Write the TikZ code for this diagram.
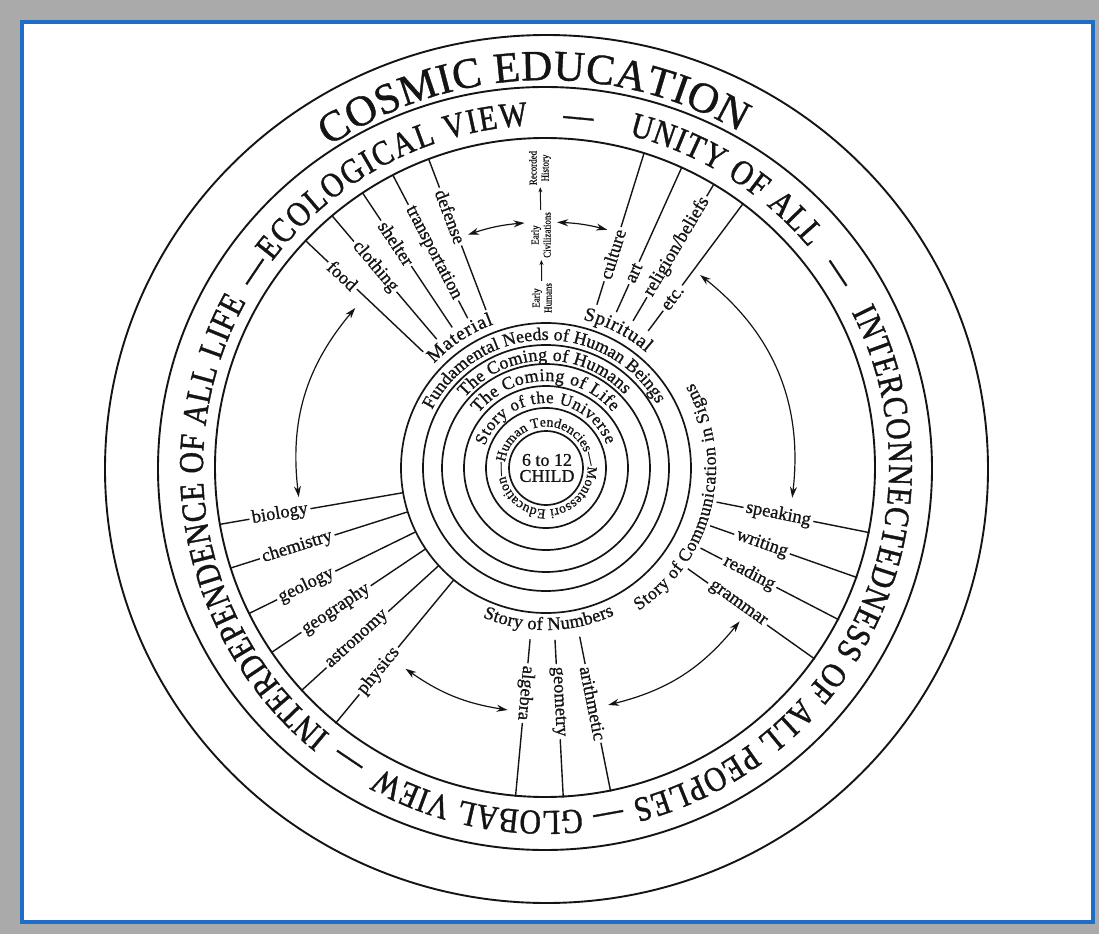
\documentclass[tikz,border=0pt]{standalone}
\usepackage{fontspec}
\setmainfont[FakeBold=0.9]{Liberation Serif}
\newfontfamily\bandfont[FakeStretch=0.85,FakeBold=1.1]{Liberation Serif}
\newfontfamily\smallfont[FakeStretch=0.85,FakeBold=0.7]{Liberation Serif}
\usetikzlibrary{decorations.text,arrows.meta}
\definecolor{framegray}{RGB}{170,170,170}
\definecolor{frameblue}{RGB}{30,110,200}
\definecolor{ink}{RGB}{20,20,20}

\newcommand\ArcText[6]{%
  \path[decorate,decoration={text along path,text color=ink,text align=#5,text={|#4|#6}}]
    (#2:#1) arc[start angle=#2,end angle=#3,radius=#1];}

\newcommand\Spoke[7]{%
  \coordinate (#1-i) at (#2:#3);
  \coordinate (#1-o) at (#2:#4);
  \node[lbl,rotate=#6] (#1) at (#2:#5) {#7};
  \draw[spoke] (#1-i) -- (#1) -- (#1-o);}

\newcommand\BF{\bandfont\fontsize{35}{35}\selectfont}
\newcommand\RF{\fontsize{18}{18}\selectfont}

\begin{document}
\begin{tikzpicture}[x=1pt,y=1pt,
  ring/.style={draw=ink,line width=1.9pt},
  inring/.style={draw=ink,line width=1.7pt},
  spoke/.style={draw=ink,line width=1.4pt},
  lbl/.style={font=\fontsize{18.5}{18.5}\selectfont,text=ink,inner sep=2.5pt},
  small/.style={font=\smallfont\fontsize{10.5}{12}\selectfont,text=ink,inner sep=2pt,align=center},
  dbl/.style={draw=ink,line width=1.2pt,{Stealth[length=11pt,width=7pt]}-{Stealth[length=11pt,width=7pt]}},
  sarrow/.style={draw=ink,line width=1pt,-{Stealth[length=5pt,width=4pt]}}]

\useasboundingbox (-546,-466) rectangle (553,468);
\fill[framegray] (-546,-466) rectangle (553,468);
\draw[frameblue,line width=3.5pt,fill=white] (-524,-454) rectangle (547,446);

% outer rings
\draw[ring] (0.5,-1) ellipse[x radius=441.5,y radius=434];
\draw[ring] (-1,-0.5) ellipse[x radius=387,y radius=381.5];
\draw[ring] (-1,0.5) ellipse[x radius=330,y radius=329.5];

% inner circles
\foreach \r in {37,60,82,104,123,145} \draw[inring] (0,0) circle[radius=\r];

% title and band text
\ArcText{388}{124}{60}{\fontsize{43}{43}\selectfont}{fit to path}{COSMIC EDUCATION}
\ArcText{343}{143}{93}{\BF}{fit to path}{ECOLOGICAL VIEW}
\ArcText{343}{89.7}{79.7}{\BF}{center}{—}
\ArcText{343}{76}{40}{\BF}{fit to path}{UNITY OF ALL}
\ArcText{343}{38.7}{28.7}{\BF}{center}{—}
\ArcText{343}{27}{-75.5}{\BF}{fit to path}{INTERCONNECTEDNESS OF ALL PEOPLES}
\ArcText{343}{-74.8}{-84.8}{\BF}{center}{—}
\ArcText{343}{-84}{-119}{\BF}{fit to path}{GLOBAL VIEW}
\ArcText{343}{-119}{-129}{\BF}{center}{—}
\ArcText{343}{-129}{-209}{\BF}{fit to path}{INTERDEPENDENCE OF ALL LIFE}
\ArcText{343}{-209}{-219}{\BF}{center}{—}

% inner ring texts
\ArcText{128}{153}{30}{\RF}{fit to path}{Fundamental Needs of Human Beings}
\ArcText{107.5}{139}{43}{\RF}{fit to path}{The Coming of Humans}
\ArcText{87}{141}{40}{\RF}{fit to path}{The Coming of Life}
\ArcText{65}{160}{21}{\fontsize{17}{17}\selectfont}{fit to path}{Story of the Universe}
\ArcText{41.5}{172}{-188}{\fontsize{13.8}{13.8}\selectfont}{fit to path}{Human Tendencies—Montessori Education—}

\ArcText{153}{137}{110}{\fontsize{19.5}{19.5}\selectfont}{fit to path}{Material}
\ArcText{153}{76}{49}{\fontsize{19.5}{19.5}\selectfont}{fit to path}{Spiritual}
\ArcText{162}{-113}{-65}{\fontsize{18.5}{18.5}\selectfont}{fit to path}{Story of Numbers}
\ArcText{170}{-57}{30}{\fontsize{18}{18}\selectfont}{fit to path}{Story of Communication in Signs}

\node[font=\fontsize{18}{16}\selectfont,align=center,text=ink] (child) at (1,0) {6 to 12\\CHILD};

% spokes
\Spoke{food}{136.6}{169}{331}{280}{-43.4}{food}
\Spoke{clothing}{130.3}{169}{331}{264}{-49.7}{clothing}
\Spoke{shelter}{123.7}{169}{330}{270}{-56.3}{shelter}
\Spoke{transp}{117.6}{169}{330}{243}{-62.4}{transportation}
\Spoke{defense}{110.8}{169}{330}{269}{-69.2}{defense}
\Spoke{culture}{72.7}{171}{329}{224}{72.7}{culture}
\Spoke{art}{65.7}{171}{329}{214}{65.7}{art}
\Spoke{religion}{59.4}{171}{329}{257}{59.4}{religion/beliefs}
\Spoke{etc}{53.3}{171}{329}{212}{53.3}{etc.}
\Spoke{biology}{189.8}{145}{331}{270}{9.8}{biology}
\Spoke{chemistry}{197.6}{145}{331}{261}{17.6}{chemistry}
\Spoke{geology}{206.1}{145}{331}{267}{26.1}{geology}
\Spoke{geography}{213.9}{145}{331}{253}{33.9}{geography}
\Spoke{astronomy}{222.3}{145}{331}{255}{42.3}{astronomy}
\Spoke{physics}{230.5}{145}{331}{263}{50.5}{physics}
\Spoke{speaking}{-11.3}{174}{330}{237}{-11.3}{speaking}
\Spoke{writing}{-19.4}{174}{330}{229}{-19.4}{writing}
\Spoke{reading}{-27.4}{174}{330}{229}{-27.4}{reading}
\Spoke{grammar}{-35.4}{174}{330}{235}{-35.4}{grammar}
\Spoke{algebra}{-95.3}{172}{330}{226}{-95.3}{algebra}
\Spoke{geometry}{-87}{172}{330}{234}{-87}{geometry}
\Spoke{arithmetic}{-78.7}{172}{330}{240}{-78.7}{arithmetic}

% history sequence
\node[small,rotate=90] (eh) at (-4,170) {Early\\Humans};
\node[small,rotate=90] (ec) at (-5,233) {Early\\Civilizations};
\node[small,rotate=90] (rh) at (-6,300) {Recorded\\History};
\draw[sarrow] (eh) -- (ec);
\draw[sarrow] (ec) -- (rh);

% double arrows
\coordinate (a1s) at (108.5:246); \coordinate (a1e) at (95:246);
\coordinate (a2s) at (87.4:246);  \coordinate (a2e) at (75.6:246);
\coordinate (a3s) at (140:249);   \coordinate (a3e) at (186.7:249);
\coordinate (a4s) at (51.4:247);  \coordinate (a4e) at (-6.9:248);
\coordinate (a5s) at (-125:245);  \coordinate (a5e) at (-99:245);
\coordinate (a6s) at (-75.3:245); \coordinate (a6e) at (-38.4:247);
\draw[dbl] (a1s) to[bend left=6.75] (a1e);
\draw[dbl] (a2s) to[bend left=5.9] (a2e);
\draw[dbl] (a3s) to[bend right=23.35] (a3e);
\draw[dbl] (a4s) to[bend left=29.15] (a4e);
\draw[dbl] (a5s) to[bend right=13] (a5e);
\draw[dbl] (a6s) to[bend right=18.45] (a6e);
\end{tikzpicture}
\end{document}
